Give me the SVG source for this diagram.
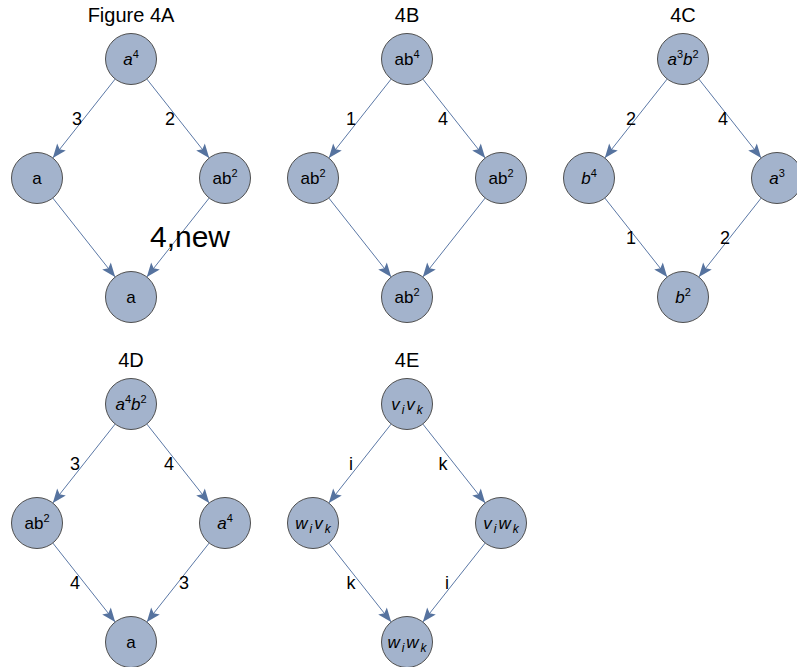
<svg xmlns="http://www.w3.org/2000/svg" width="797" height="667" viewBox="0 0 797 667">
<style>
  .node circle { fill: #a3b3cc; stroke: #4f4f4f; stroke-width: 1; }
  .node text { font-family: "Liberation Sans", Arial, sans-serif; font-size: 17px; fill: #000; text-anchor: middle; }
  .it { font-style: italic; }
  .sup { font-size: 11px; }
  .sub { font-size: 12px; font-style: italic; }
  .edges line { stroke: #5b78a6; stroke-width: 1; marker-end: url(#arr); }
  .lbl { font-family: "Liberation Sans", Arial, sans-serif; font-size: 18px; fill: #000; text-anchor: middle; }
  .title { font-family: "Liberation Sans", Arial, sans-serif; font-size: 20px; fill: #000; text-anchor: middle; }
</style>
<defs>
  <marker id="arr" markerUnits="userSpaceOnUse" markerWidth="16" markerHeight="12" viewBox="-15 -6 16 12" refX="0" refY="0" orient="auto">
    <path d="M0,0 L-14,-5.5 L-11,0 L-14,5.5 Z" fill="#56739f"/>
  </marker>
</defs>
<rect width="797" height="667" fill="#fff"/>

<g id="titles">
  <text class="title" x="131" y="22">Figure 4A</text>
  <text class="title" x="407" y="22">4B</text>
  <text class="title" x="683" y="22">4C</text>
  <text class="title" x="131" y="367">4D</text>
  <text class="title" x="407" y="367">4E</text>
</g>

<g class="edges" id="connectors">
  <!-- A -->
  <line x1="115.19" y1="79.01" x2="52.81" y2="157.99"/>
  <line x1="146.81" y1="79.01" x2="209.19" y2="157.99"/>
  <line x1="52.81" y1="198.01" x2="115.19" y2="276.99"/>
  <line x1="209.19" y1="198.01" x2="146.81" y2="276.99"/>
  <!-- B -->
  <line x1="391.19" y1="79.01" x2="328.81" y2="157.99"/>
  <line x1="422.81" y1="79.01" x2="485.19" y2="157.99"/>
  <line x1="328.81" y1="198.01" x2="391.19" y2="276.99"/>
  <line x1="485.19" y1="198.01" x2="422.81" y2="276.99"/>
  <!-- C -->
  <line x1="667.19" y1="79.01" x2="604.81" y2="157.99"/>
  <line x1="698.81" y1="79.01" x2="761.19" y2="157.99"/>
  <line x1="604.81" y1="198.01" x2="667.19" y2="276.99"/>
  <line x1="761.19" y1="198.01" x2="698.81" y2="276.99"/>
  <!-- D -->
  <line x1="115.19" y1="424.01" x2="52.81" y2="502.99"/>
  <line x1="146.81" y1="424.01" x2="209.19" y2="502.99"/>
  <line x1="52.81" y1="543.01" x2="115.19" y2="621.99"/>
  <line x1="209.19" y1="543.01" x2="146.81" y2="621.99"/>
  <!-- E -->
  <line x1="391.19" y1="424.01" x2="328.81" y2="502.99"/>
  <line x1="422.81" y1="424.01" x2="485.19" y2="502.99"/>
  <line x1="328.81" y1="543.01" x2="391.19" y2="621.99"/>
  <line x1="485.19" y1="543.01" x2="422.81" y2="621.99"/>
</g>

<g id="edge-labels">
  <text class="lbl" x="77" y="125">3</text>
  <text class="lbl" x="170" y="125">2</text>
  <text class="lbl" x="190" y="247" style="font-size:30px">4,new</text>
  <text class="lbl" x="351" y="125">1</text>
  <text class="lbl" x="443" y="125">4</text>
  <text class="lbl" x="631" y="125">2</text>
  <text class="lbl" x="723" y="125">4</text>
  <text class="lbl" x="631" y="244">1</text>
  <text class="lbl" x="725" y="244">2</text>
  <text class="lbl" x="75" y="470">3</text>
  <text class="lbl" x="169" y="470">4</text>
  <text class="lbl" x="75" y="589">4</text>
  <text class="lbl" x="184" y="589">3</text>
  <text class="lbl" x="351" y="470">i</text>
  <text class="lbl" x="443" y="470">k</text>
  <text class="lbl" x="351" y="589">k</text>
  <text class="lbl" x="447" y="589">i</text>
</g>

<!-- Figure 4A -->
<g id="A-top" class="node"><circle cx="131" cy="59" r="25.5"/><text x="131" y="65"><tspan class="it">a</tspan><tspan class="sup" dy="-7">4</tspan></text></g>
<g id="A-left" class="node"><circle cx="37" cy="178" r="25.5"/><text x="37" y="184">a</text></g>
<g id="A-right" class="node"><circle cx="225" cy="178" r="25.5"/><text x="225" y="184">ab<tspan class="sup" dy="-7">2</tspan></text></g>
<g id="A-bottom" class="node"><circle cx="131" cy="297" r="25.5"/><text x="131" y="303">a</text></g>

<!-- 4B -->
<g id="B-top" class="node"><circle cx="407" cy="59" r="25.5"/><text x="407" y="65">ab<tspan class="sup" dy="-7">4</tspan></text></g>
<g id="B-left" class="node"><circle cx="313" cy="178" r="25.5"/><text x="313" y="184">ab<tspan class="sup" dy="-7">2</tspan></text></g>
<g id="B-right" class="node"><circle cx="501" cy="178" r="25.5"/><text x="501" y="184">ab<tspan class="sup" dy="-7">2</tspan></text></g>
<g id="B-bottom" class="node"><circle cx="407" cy="297" r="25.5"/><text x="407" y="303">ab<tspan class="sup" dy="-7">2</tspan></text></g>

<!-- 4C -->
<g id="C-top" class="node"><circle cx="683" cy="59" r="25.5"/><text x="683" y="65"><tspan class="it">a</tspan><tspan class="sup" dy="-7">3</tspan><tspan class="it" dy="7">b</tspan><tspan class="sup" dy="-7">2</tspan></text></g>
<g id="C-left" class="node"><circle cx="589" cy="178" r="25.5"/><text x="589" y="184"><tspan class="it">b</tspan><tspan class="sup" dy="-7">4</tspan></text></g>
<g id="C-right" class="node"><circle cx="777" cy="178" r="25.5"/><text x="777" y="184"><tspan class="it">a</tspan><tspan class="sup" dy="-7">3</tspan></text></g>
<g id="C-bottom" class="node"><circle cx="683" cy="297" r="25.5"/><text x="683" y="303"><tspan class="it">b</tspan><tspan class="sup" dy="-7">2</tspan></text></g>

<!-- 4D -->
<g id="D-top" class="node"><circle cx="131" cy="404" r="25.5"/><text x="131" y="410"><tspan class="it">a</tspan><tspan class="sup" dy="-7">4</tspan><tspan class="it" dy="7">b</tspan><tspan class="sup" dy="-7">2</tspan></text></g>
<g id="D-left" class="node"><circle cx="37" cy="523" r="25.5"/><text x="37" y="529">ab<tspan class="sup" dy="-7">2</tspan></text></g>
<g id="D-right" class="node"><circle cx="225" cy="523" r="25.5"/><text x="225" y="529"><tspan class="it">a</tspan><tspan class="sup" dy="-7">4</tspan></text></g>
<g id="D-bottom" class="node"><circle cx="131" cy="642" r="25.5"/><text x="131" y="648">a</text></g>

<!-- 4E -->
<g id="E-top" class="node"><circle cx="407" cy="404" r="25.5"/><text x="407" y="410"><tspan class="it">v</tspan><tspan class="sub" dx="2" dy="4">i</tspan><tspan class="it" dx="2" dy="-4">v</tspan><tspan class="sub" dx="2" dy="4">k</tspan></text></g>
<g id="E-left" class="node"><circle cx="313" cy="523" r="25.5"/><text x="313" y="529"><tspan class="it">w</tspan><tspan class="sub" dx="2" dy="4">i</tspan><tspan class="it" dx="2" dy="-4">v</tspan><tspan class="sub" dx="2" dy="4">k</tspan></text></g>
<g id="E-right" class="node"><circle cx="501" cy="523" r="25.5"/><text x="501" y="529"><tspan class="it">v</tspan><tspan class="sub" dx="2" dy="4">i</tspan><tspan class="it" dx="2" dy="-4">w</tspan><tspan class="sub" dx="2" dy="4">k</tspan></text></g>
<g id="E-bottom" class="node"><circle cx="407" cy="642" r="25.5"/><text x="407" y="648"><tspan class="it">w</tspan><tspan class="sub" dx="2" dy="4">i</tspan><tspan class="it" dx="2" dy="-4">w</tspan><tspan class="sub" dx="2" dy="4">k</tspan></text></g>
</svg>
